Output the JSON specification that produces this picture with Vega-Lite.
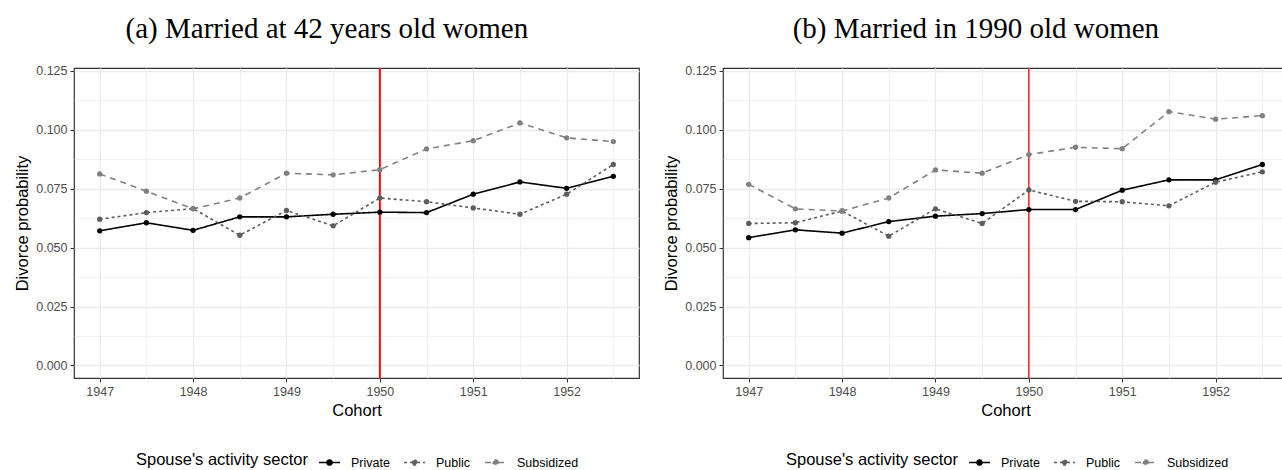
{
  "$schema": "https://vega.github.io/schema/vega-lite/v6.json",
  "padding": {"left": 14, "top": 13, "right": 0, "bottom": 0},
  "spacing": 23,
  "data": {"values": [
    {"p":"a","s":"Private","c":1947,"v":0.0571},{"p":"a","s":"Private","c":1947.5,"v":0.0605},{"p":"a","s":"Private","c":1948,"v":0.0573},{"p":"a","s":"Private","c":1948.5,"v":0.0630},{"p":"a","s":"Private","c":1949,"v":0.0630},{"p":"a","s":"Private","c":1949.5,"v":0.0641},{"p":"a","s":"Private","c":1950,"v":0.0650},{"p":"a","s":"Private","c":1950.5,"v":0.0648},{"p":"a","s":"Private","c":1951,"v":0.0726},{"p":"a","s":"Private","c":1951.5,"v":0.0778},{"p":"a","s":"Private","c":1952,"v":0.0751},{"p":"a","s":"Private","c":1952.5,"v":0.0802},
    {"p":"a","s":"Public","c":1947,"v":0.0620},{"p":"a","s":"Public","c":1947.5,"v":0.0648},{"p":"a","s":"Public","c":1948,"v":0.0665},{"p":"a","s":"Public","c":1948.5,"v":0.0552},{"p":"a","s":"Public","c":1949,"v":0.0657},{"p":"a","s":"Public","c":1949.5,"v":0.0592},{"p":"a","s":"Public","c":1950,"v":0.0710},{"p":"a","s":"Public","c":1950.5,"v":0.0694},{"p":"a","s":"Public","c":1951,"v":0.0668},{"p":"a","s":"Public","c":1951.5,"v":0.0641},{"p":"a","s":"Public","c":1952,"v":0.0726},{"p":"a","s":"Public","c":1952.5,"v":0.0852},
    {"p":"a","s":"Subsidized","c":1947,"v":0.0812},{"p":"a","s":"Subsidized","c":1947.5,"v":0.0739},{"p":"a","s":"Subsidized","c":1948,"v":0.0664},{"p":"a","s":"Subsidized","c":1948.5,"v":0.0710},{"p":"a","s":"Subsidized","c":1949,"v":0.0815},{"p":"a","s":"Subsidized","c":1949.5,"v":0.0808},{"p":"a","s":"Subsidized","c":1950,"v":0.0830},{"p":"a","s":"Subsidized","c":1950.5,"v":0.0918},{"p":"a","s":"Subsidized","c":1951,"v":0.0953},{"p":"a","s":"Subsidized","c":1951.5,"v":0.1028},{"p":"a","s":"Subsidized","c":1952,"v":0.0965},{"p":"a","s":"Subsidized","c":1952.5,"v":0.0949},
    {"p":"b","s":"Private","c":1947,"v":0.0542},{"p":"b","s":"Private","c":1947.5,"v":0.0575},{"p":"b","s":"Private","c":1948,"v":0.0561},{"p":"b","s":"Private","c":1948.5,"v":0.0610},{"p":"b","s":"Private","c":1949,"v":0.0633},{"p":"b","s":"Private","c":1949.5,"v":0.0644},{"p":"b","s":"Private","c":1950,"v":0.0661},{"p":"b","s":"Private","c":1950.5,"v":0.0661},{"p":"b","s":"Private","c":1951,"v":0.0743},{"p":"b","s":"Private","c":1951.5,"v":0.0787},{"p":"b","s":"Private","c":1952,"v":0.0787},{"p":"b","s":"Private","c":1952.5,"v":0.0852},
    {"p":"b","s":"Public","c":1947,"v":0.0602},{"p":"b","s":"Public","c":1947.5,"v":0.0605},{"p":"b","s":"Public","c":1948,"v":0.0655},{"p":"b","s":"Public","c":1948.5,"v":0.0548},{"p":"b","s":"Public","c":1949,"v":0.0664},{"p":"b","s":"Public","c":1949.5,"v":0.0602},{"p":"b","s":"Public","c":1950,"v":0.0744},{"p":"b","s":"Public","c":1950.5,"v":0.0696},{"p":"b","s":"Public","c":1951,"v":0.0694},{"p":"b","s":"Public","c":1951.5,"v":0.0677},{"p":"b","s":"Public","c":1952,"v":0.0777},{"p":"b","s":"Public","c":1952.5,"v":0.0821},
    {"p":"b","s":"Subsidized","c":1947,"v":0.0768},{"p":"b","s":"Subsidized","c":1947.5,"v":0.0664},{"p":"b","s":"Subsidized","c":1948,"v":0.0655},{"p":"b","s":"Subsidized","c":1948.5,"v":0.0710},{"p":"b","s":"Subsidized","c":1949,"v":0.0829},{"p":"b","s":"Subsidized","c":1949.5,"v":0.0815},{"p":"b","s":"Subsidized","c":1950,"v":0.0894},{"p":"b","s":"Subsidized","c":1950.5,"v":0.0925},{"p":"b","s":"Subsidized","c":1951,"v":0.0919},{"p":"b","s":"Subsidized","c":1951.5,"v":0.1076},{"p":"b","s":"Subsidized","c":1952,"v":0.1044},{"p":"b","s":"Subsidized","c":1952.5,"v":0.1059}
  ]},
  "resolve": {"legend": {"color": "independent", "strokeDash": "independent"}, "scale": {"color": "independent", "strokeDash": "independent"}},
  "hconcat": [
    {
      "width": 565, "height": 310,
      "title": {"text": "(a) Married at 42 years old women", "font": "Liberation Serif", "fontSize": 29, "fontWeight": "normal", "color": "#000000", "anchor": "middle", "frame": "bounds", "offset": 21},
      "encoding": {
        "x": {"field": "c", "type": "quantitative", "scale": {"domain": [1946.725, 1952.775], "nice": false, "zero": false},
          "axis": {"title": "Cohort", "values": [1947,1947.5,1948,1948.5,1949,1949.5,1950,1950.5,1951,1951.5,1952,1952.5],
            "labelExpr": "datum.value % 1 === 0 ? format(datum.value, 'd') : ''", "labelOverlap": false,
            "tickOpacity": {"condition": {"test": "datum.value % 1 !== 0", "value": 0}, "value": 1},
            "gridWidth": {"condition": {"test": "datum.value % 1 !== 0", "value": 0.7}, "value": 1.3}}}
      },
      "layer": [
        {"data": {"values": [{"c": 1950}]}, "mark": {"type": "rule", "color": "#ff0000", "strokeWidth": 1.9}},
        {"transform": [{"filter": "datum.p === 'a'"}],
         "mark": {"type": "line", "strokeWidth": 1.6, "point": {"filled": true, "size": 28}},
         "encoding": {
           "y": {"field": "v", "type": "quantitative", "scale": {"domain": [-0.0053, 0.1261], "nice": false, "zero": false},
             "axis": {"title": "Divorce probability", "values": [0,0.0125,0.025,0.0375,0.05,0.0625,0.075,0.0875,0.1,0.1125,0.125],
               "labelExpr": "abs(datum.value*40 - round(datum.value*40)) < 0.001 ? format(datum.value, '.3f') : ''", "labelOverlap": false,
               "tickOpacity": {"condition": {"test": "abs(datum.value*40 - round(datum.value*40)) >= 0.001", "value": 0}, "value": 1},
               "gridWidth": {"condition": {"test": "abs(datum.value*40 - round(datum.value*40)) >= 0.001", "value": 0.7}, "value": 1.3}}},
           "color": {"field": "s", "type": "nominal", "title": "Spouse's activity sector", "scale": {"domain": ["Private","Public","Subsidized"], "range": ["#000000","#5d5d5d","#808080"]}, "legend": {"legendX": 62, "legendY": 383}},
           "strokeDash": {"field": "s", "type": "nominal", "title": "Spouse's activity sector", "scale": {"domain": ["Private","Public","Subsidized"], "range": [[1,0],[3,3],[6,5]]}, "legend": {"legendX": 62, "legendY": 383}}
         }}
      ]
    },
    {
      "width": 565, "height": 310,
      "title": {"text": "(b) Married in 1990 old women", "font": "Liberation Serif", "fontSize": 29, "fontWeight": "normal", "color": "#000000", "anchor": "middle", "frame": "bounds", "offset": 21},
      "encoding": {
        "x": {"field": "c", "type": "quantitative", "scale": {"domain": [1946.725, 1952.775], "nice": false, "zero": false},
          "axis": {"title": "Cohort", "values": [1947,1947.5,1948,1948.5,1949,1949.5,1950,1950.5,1951,1951.5,1952,1952.5],
            "labelExpr": "datum.value % 1 === 0 ? format(datum.value, 'd') : ''", "labelOverlap": false,
            "tickOpacity": {"condition": {"test": "datum.value % 1 !== 0", "value": 0}, "value": 1},
            "gridWidth": {"condition": {"test": "datum.value % 1 !== 0", "value": 0.7}, "value": 1.3}}}
      },
      "layer": [
        {"data": {"values": [{"c": 1950}]}, "mark": {"type": "rule", "color": "#ff0000", "strokeWidth": 1.3}},
        {"transform": [{"filter": "datum.p === 'b'"}],
         "mark": {"type": "line", "strokeWidth": 1.6, "point": {"filled": true, "size": 28}},
         "encoding": {
           "y": {"field": "v", "type": "quantitative", "scale": {"domain": [-0.0053, 0.1261], "nice": false, "zero": false},
             "axis": {"title": "Divorce probability", "values": [0,0.0125,0.025,0.0375,0.05,0.0625,0.075,0.0875,0.1,0.1125,0.125],
               "labelExpr": "abs(datum.value*40 - round(datum.value*40)) < 0.001 ? format(datum.value, '.3f') : ''", "labelOverlap": false,
               "tickOpacity": {"condition": {"test": "abs(datum.value*40 - round(datum.value*40)) >= 0.001", "value": 0}, "value": 1},
               "gridWidth": {"condition": {"test": "abs(datum.value*40 - round(datum.value*40)) >= 0.001", "value": 0.7}, "value": 1.3}}},
           "color": {"field": "s", "type": "nominal", "title": "Spouse's activity sector", "scale": {"domain": ["Private","Public","Subsidized"], "range": ["#000000","#5d5d5d","#808080"]}, "legend": {"legendX": 63, "legendY": 383}},
           "strokeDash": {"field": "s", "type": "nominal", "title": "Spouse's activity sector", "scale": {"domain": ["Private","Public","Subsidized"], "range": [[1,0],[3,3],[6,5]]}, "legend": {"legendX": 63, "legendY": 383}}
         }}
      ]
    }
  ],
  "config": {
    "font": "Liberation Sans",
    "view": {"stroke": "#333333", "strokeWidth": 1.2},
    "axis": {"domain": false, "tickColor": "#333333", "tickSize": 4, "labelPadding": 3, "labelColor": "#4d4d4d", "labelFontSize": 12.5, "titleFontSize": 16.5, "titleFontWeight": "normal", "titleColor": "#000000", "gridColor": "#ebebeb", "titlePadding": 5},
    "legend": {"orient": "none", "direction": "horizontal", "titleOrient": "left", "titleFontSize": 16.5, "titleFontWeight": "normal", "titleColor": "#000000", "labelFontSize": 12.5, "labelColor": "#000000",
      "symbolType": "M-1,0H-0.24A0.24,0.24,0,1,1,0.24,0A0.24,0.24,0,1,1,-0.24,0M0.24,0H1", "symbolSize": 441, "symbolStrokeWidth": 1.6, "columnPadding": 10, "labelOffset": 10, "titlePadding": 10,
      "symbolFillColor": "#5d5d5d"}
  }
}
